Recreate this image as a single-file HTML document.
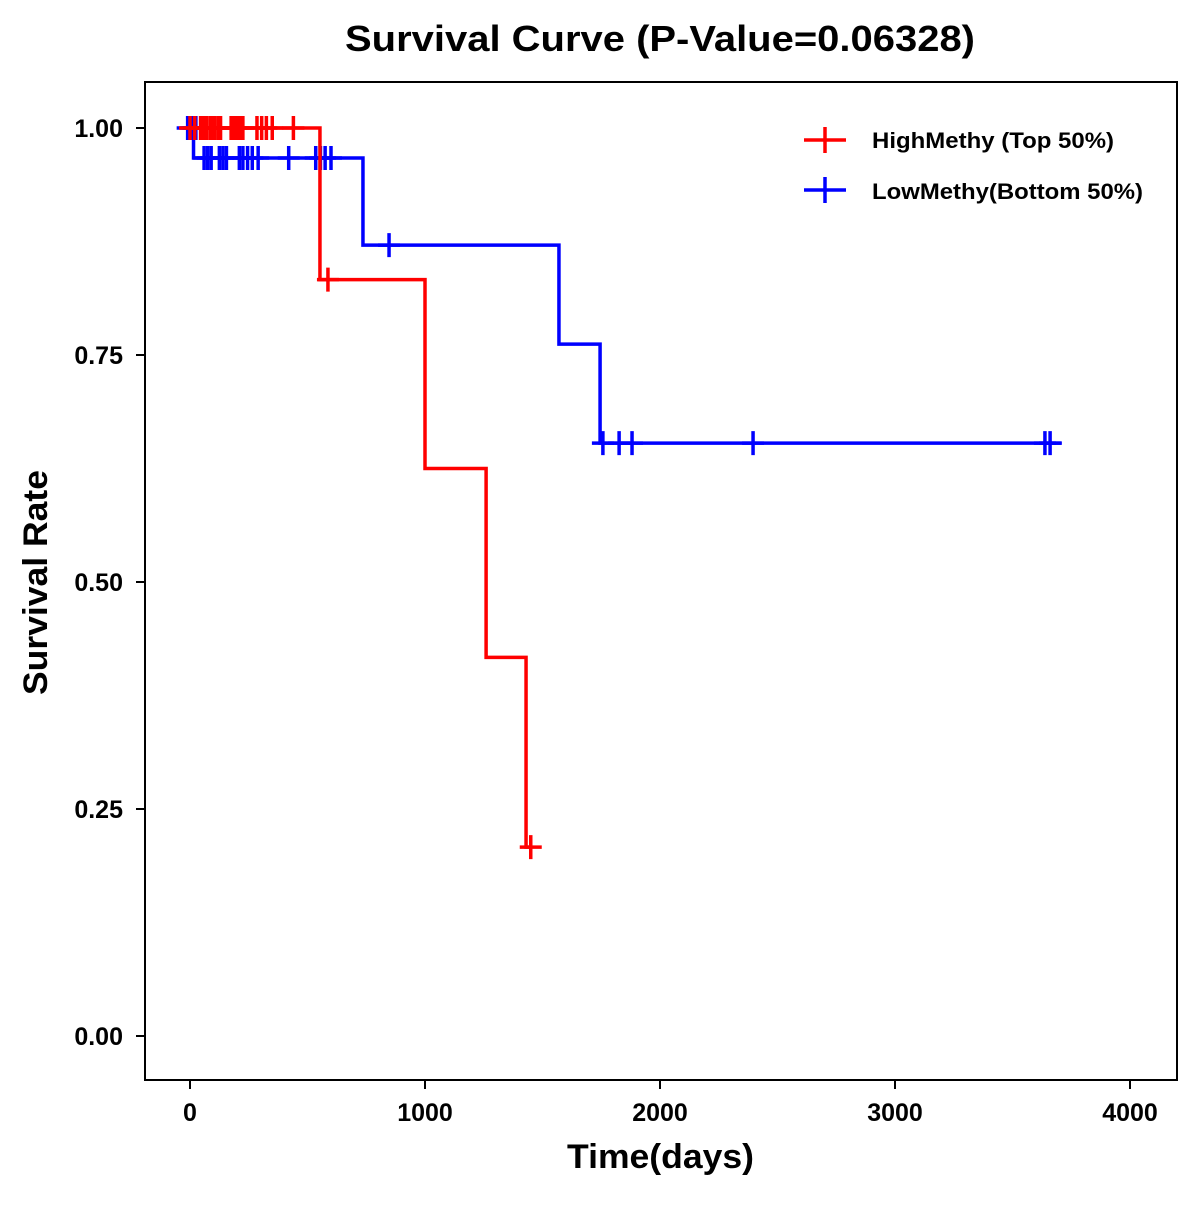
<!DOCTYPE html>
<html><head><meta charset="utf-8"><style>
html,body{margin:0;padding:0;background:#fff;}
svg text{font-family:"Liberation Sans",Arial,sans-serif;font-weight:bold;fill:#000;}
</style></head><body>
<svg id="chart" width="1200" height="1200" viewBox="0 0 1200 1200" xmlns="http://www.w3.org/2000/svg">
<rect width="1200" height="1200" fill="#fff"/>
<text x="345" y="51" font-size="36" textLength="630" lengthAdjust="spacingAndGlyphs">Survival Curve (P-Value=0.06328)</text>
<rect x="145" y="82" width="1032" height="998" fill="none" stroke="#000" stroke-width="2"/>
<g id="axes"></g>
<g id="series"></g>
<text x="567" y="1168" font-size="34" textLength="187" lengthAdjust="spacingAndGlyphs">Time(days)</text>
<text transform="translate(47,695) rotate(-90)" font-size="34" textLength="225" lengthAdjust="spacingAndGlyphs">Survival Rate</text>
<g>
<g>
<line x1="804" y1="140" x2="846" y2="140" stroke="#ff0000" stroke-width="3.5"/>
<line x1="825" y1="127" x2="825" y2="153" stroke="#ff0000" stroke-width="3.5"/>
<text x="872" y="148" font-size="22" textLength="242" lengthAdjust="spacingAndGlyphs">HighMethy (Top 50%)</text>
</g>
<g>
<line x1="804" y1="190" x2="846" y2="190" stroke="#0000ff" stroke-width="3.5"/>
<line x1="825" y1="177" x2="825" y2="203" stroke="#0000ff" stroke-width="3.5"/>
<text x="872" y="199" font-size="22" textLength="271" lengthAdjust="spacingAndGlyphs">LowMethy(Bottom 50%)</text>
</g>
</g>
</svg>
<script>
const xTicks = [0, 1000, 2000, 3000, 4000];
const yTicks = [0, 0.25, 0.5, 0.75, 1.0];
const yTickLabels = ["0.00", "0.25", "0.50", "0.75", "1.00"];
const highTimes = [0, 553, 1000, 1260, 1430];
const highSurv = [1.0, 0.833, 0.625, 0.417, 0.208];
const highEnd = 1450;
const highCensorTimes = [0, 20, 45, 55, 60, 70, 85, 95, 105, 120, 130, 175, 185, 195, 205, 215, 225, 285, 305, 325, 350, 440, 587, 1450];
const highCensorSurv = [1,1,1,1,1,1,1,1,1,1,1,1,1,1,1,1,1,1,1,1,1,1,0.833,0.208];
const lowTimes = [0, 15, 736, 1570, 1745];
const lowSurv = [1.0, 0.967, 0.871, 0.762, 0.653];
const lowEnd = 3710;
const lowCensorTimes = [-10, 5, 15, 25, 60, 75, 90, 125, 140, 155, 210, 225, 245, 265, 290, 420, 535, 555, 575, 600, 847, 1757, 1826, 1881, 2396, 3638, 3660];
const lowCensorSurv = [1,1,1,1,0.967,0.967,0.967,0.967,0.967,0.967,0.967,0.967,0.967,0.967,0.967,0.967,0.967,0.967,0.967,0.967,0.871,0.653,0.653,0.653,0.653,0.653,0.653];

const xs = t => 190 + t * 0.235;
const ys = s => 1036 - s * 908;
const NS = "http://www.w3.org/2000/svg";
function mk(tag, attrs, parent) {
  const e = document.createElementNS(NS, tag);
  for (const k in attrs) e.setAttribute(k, attrs[k]);
  parent.appendChild(e);
  return e;
}
const axes = document.getElementById('axes');
xTicks.forEach(t => {
  const l = mk('line', {x1: xs(t), x2: xs(t), y1: 1080, y2: 1089, stroke: '#000', 'stroke-width': 2}, axes);
  
  
  const tx = mk('text', {x: xs(t), y: 1121, 'font-size': 25, 'text-anchor': 'middle'}, axes);
  tx.textContent = t;
  
  
});
yTicks.forEach((v, i) => {
  const l = mk('line', {x1: 136, x2: 145, y1: ys(v), y2: ys(v), stroke: '#000', 'stroke-width': 2}, axes);
  
  
  const tx = mk('text', {x: 123, y: ys(v) + 9, 'font-size': 25, 'text-anchor': 'end'}, axes);
  tx.textContent = yTickLabels[i];
  
  
});
const series = document.getElementById('series');
function drawSeries(times, surv, end, cT, cS, color, name) {
  const g = mk('g', {}, series);
  
  
  let d = 'M' + xs(times[0]) + ' ' + ys(surv[0]);
  for (let i = 1; i < times.length; i++) {
    d += ' H' + xs(times[i]) + ' V' + ys(surv[i]);
  }
  d += ' H' + xs(end);
  const p = mk('path', {d: d, fill: 'none', stroke: color, 'stroke-width': 3.5}, g);
  
  
  cT.forEach((t, i) => {
    const x = xs(t), y = ys(cS[i]);
    const c = mk('path', {d: `M${x-11} ${y} H${x+11} M${x} ${y-12} V${y+12}`, stroke: color, 'stroke-width': 3.5, fill: 'none'}, g);
    
    
  });
}
drawSeries(lowTimes, lowSurv, lowEnd, lowCensorTimes, lowCensorSurv, '#0000ff', 'low-methy');
drawSeries(highTimes, highSurv, highEnd, highCensorTimes, highCensorSurv, '#ff0000', 'high-methy');
</script>
</body></html>
